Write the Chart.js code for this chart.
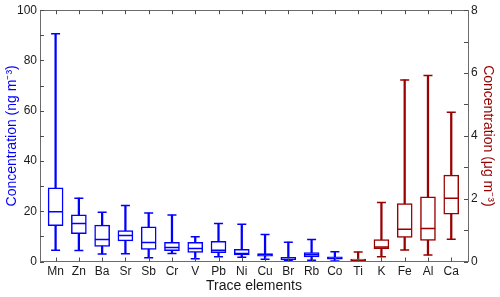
<!DOCTYPE html>
<html>
<head>
<meta charset="utf-8">
<script src="https://cdn.jsdelivr.net/npm/chart.js@4"></script>
<style>
  html, body { margin: 0; padding: 0; background: #fff; }
  #wrap { width: 500px; height: 297px; }
</style>
</head>
<body>
<div id="wrap"><canvas id="c" width="500" height="297"></canvas></div>
<script>
// Box plot of trace elements: left axis ng m-3, right axis ug m-3
const elements = ['Mn', 'Zn', 'Ba', 'Sr', 'Sb', 'Cr', 'V', 'Pb', 'Ni', 'Cu', 'Br', 'Rb', 'Co', 'Ti', 'K', 'Fe', 'Al', 'Ca'];
// 'ng' -> left axis, 'ug' -> right axis
const unitGroup = ['ng', 'ng', 'ng', 'ng', 'ng', 'ng', 'ng', 'ng', 'ng', 'ng', 'ng', 'ng', 'ng', 'ug', 'ug', 'ug', 'ug', 'ug'];
const minVals = [4.5, 4.4, 3.0, 3.1, 1.5, 3.2, 1.1, 1.9, 1.7, 0.9, 0.3, 0.5, 0.2, 0.01, 0.15, 0.37, 0.21, 0.71];
const q1Vals = [14.3, 11.1, 6.0, 8.2, 4.8, 4.3, 3.6, 3.5, 2.6, 2.1, 0.6, 1.8, 0.9, 0.02, 0.41, 0.77, 0.67, 1.51];
const medVals = [19.8, 15.1, 8.8, 10.3, 7.6, 5.6, 5.2, 4.5, 3.2, 2.7, 0.9, 2.7, 1.3, 0.04, 0.46, 1.03, 1.05, 2.01];
const q3Vals = [29.3, 18.6, 14.5, 12.3, 13.8, 7.6, 7.6, 8.0, 4.8, 3.2, 1.7, 3.5, 1.9, 0.08, 0.70, 1.84, 2.06, 2.75];
const maxVals = [90.6, 25.2, 19.6, 22.3, 19.3, 18.5, 9.8, 15.1, 14.8, 10.7, 7.7, 8.8, 3.9, 0.30, 1.88, 5.78, 5.92, 4.75];
const leftTicks = [0, 20, 40, 60, 80, 100];
const rightTicks = [0, 2, 4, 6, 8];

const BLUE = '#0000ff';
const RED = '#990000';
const FONT = "'Liberation Sans', Arial, sans-serif";
const TEXT = '#1a1a1a';

function pick(group, fn) {
  const out = [];
  elements.forEach((e, i) => {
    if (unitGroup[i] === group) out.push(...fn(i));
  });
  return out;
}

function groupSets(group, color, axis) {
  const whiskers = pick(group, i => [{ x: i + 1, y: [minVals[i], maxVals[i]] }]);
  const boxes = pick(group, i => [{ x: i + 1, y: [q1Vals[i], q3Vals[i]] }]);
  const caps = pick(group, i => [{ x: i + 1, y: minVals[i] }, { x: i + 1, y: maxVals[i] }]);
  const medians = pick(group, i => [{ x: i + 1, y: medVals[i] }]);
  return {
    medians: {
      type: 'line', data: medians, yAxisID: axis, showLine: false,
      pointStyle: 'line', pointRadius: 7.2, pointBorderWidth: 1.5,
      borderColor: color, pointBorderColor: color
    },
    caps: {
      type: 'line', data: caps, yAxisID: axis, showLine: false,
      pointStyle: 'line', pointRadius: 4.5, pointBorderWidth: 1.5,
      borderColor: color, pointBorderColor: color
    },
    boxes: {
      type: 'bar', data: boxes, yAxisID: axis, barThickness: 15, grouped: false,
      backgroundColor: '#ffffff', borderColor: color, borderWidth: 1.5, borderSkipped: false
    },
    whiskers: {
      type: 'bar', data: whiskers, yAxisID: axis, barThickness: 1.6, grouped: false,
      backgroundColor: color, borderWidth: 0
    }
  };
}

const blue = groupSets('ng', BLUE, 'y');
const red = groupSets('ug', RED, 'y2');

// draws the frame and inward MATLAB-style ticks
const framePlugin = {
  id: 'frame',
  afterDraw(chart) {
    const { ctx, chartArea: a, scales } = chart;
    ctx.save();
    ctx.strokeStyle = '#6b6b6b';
    ctx.lineWidth = 1;
    ctx.strokeRect(Math.round(a.left) + 0.5, Math.round(a.top) + 0.5,
      Math.round(a.right - a.left), Math.round(a.bottom - a.top));
    ctx.strokeStyle = '#4d4d4d';
    ctx.beginPath();
    const len = 4;
    for (let v = 0; v <= 100; v += 10) {
      const y = Math.round(scales.y.getPixelForValue(v)) + 0.5;
      ctx.moveTo(a.left, y); ctx.lineTo(a.left + len, y);
    }
    for (let v = 0; v <= 8; v += 1) {
      const y = Math.round(scales.y2.getPixelForValue(v)) + 0.5;
      ctx.moveTo(a.right, y); ctx.lineTo(a.right - len, y);
    }
    elements.forEach((e, i) => {
      const x = Math.round(scales.x.getPixelForValue(i + 1)) + 0.5;
      ctx.moveTo(x, a.top); ctx.lineTo(x, a.top + len);
      ctx.moveTo(x, a.bottom); ctx.lineTo(x, a.bottom - len);
    });
    ctx.stroke();
    ctx.restore();
  }
};

new Chart(document.getElementById('c'), {
  type: 'bar',
  data: {
    datasets: [
      blue.medians, red.medians,
      blue.caps, red.caps,
      blue.boxes, red.boxes,
      blue.whiskers, red.whiskers
    ]
  },
  options: {
    responsive: false,
    animation: false,
    layout: { padding: { top: 9, left: 0, right: 0, bottom: 0 } },
    plugins: { legend: { display: false }, tooltip: { enabled: false } },
    scales: {
      x: {
        type: 'linear',
        offset: false,
        min: 0.33,
        max: 18.72,
        grid: { display: false, drawTicks: false },
        border: { display: false },
        afterBuildTicks: axis => { axis.ticks = elements.map((e, i) => ({ value: i + 1 })); },
        afterFit: axis => { axis.height = 35.5; },
        ticks: {
          autoSkip: false, maxRotation: 0, padding: 3,
          color: TEXT, font: { family: FONT, size: 12 },
          callback: v => elements[v - 1] || ''
        },
        title: {
          display: true, text: 'Trace elements', color: TEXT,
          font: { family: FONT, size: 14 }, padding: { top: 0, bottom: 2 }
        }
      },
      y: {
        position: 'left',
        min: 0, max: 100,
        grid: { display: false, drawTicks: false },
        border: { display: false },
        afterBuildTicks: axis => { axis.ticks = leftTicks.map(v => ({ value: v })); },
        afterFit: axis => { axis.width = 40; },
        ticks: { padding: 3, color: TEXT, font: { family: FONT, size: 12 } },
        title: {
          display: true, text: 'Concentration (ng m\u207B\u00B3)', color: BLUE,
          font: { family: FONT, size: 14 }, padding: { top: 4, bottom: 0 }
        }
      },
      y2: {
        position: 'right',
        min: 0, max: 8,
        grid: { display: false, drawTicks: false },
        border: { display: false },
        afterBuildTicks: axis => { axis.ticks = rightTicks.map(v => ({ value: v })); },
        afterFit: axis => { axis.width = 32; },
        ticks: { padding: 3, color: TEXT, font: { family: FONT, size: 12 } },
        title: {
          display: true, text: 'Concentration (\u03BCg m\u207B\u00B3)', color: RED,
          font: { family: FONT, size: 14 }, padding: { top: 4, bottom: 0 }
        }
      }
    }
  },
  plugins: [framePlugin]
});
</script>
</body>
</html>
